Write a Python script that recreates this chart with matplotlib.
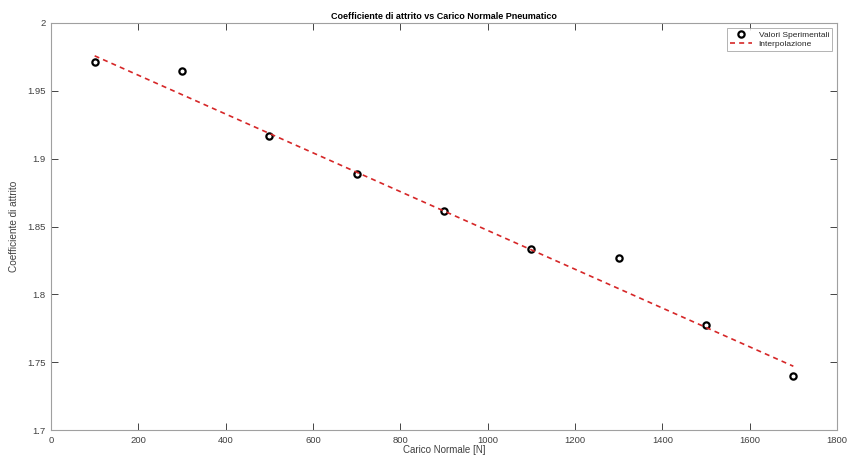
import matplotlib
matplotlib.use('Agg')
import matplotlib.pyplot as plt

# dati sperimentali
carico = [100, 300, 500, 700, 900, 1100, 1300, 1500, 1700]
coeff = [1.9715, 1.9643, 1.9165, 1.8890, 1.8612, 1.8337, 1.8265, 1.7775, 1.7400]

# retta di interpolazione (estremi)
carico_fit = [100, 1700]
coeff_fit = [1.9758, 1.7470]

x_ticks = [0, 200, 400, 600, 800, 1000, 1200, 1400, 1600, 1800]
y_ticks = [1.7, 1.75, 1.8, 1.85, 1.9, 1.95, 2.0]
y_labels = ['1.7', '1.75', '1.8', '1.85', '1.9', '1.95', '2']

plt.rcParams['font.family'] = ['Liberation Sans', 'DejaVu Sans']

fig = plt.figure(figsize=(8.49, 4.57), dpi=100)
ax = fig.add_axes([51 / 849, 1 - 430 / 457, 786 / 849, 407 / 457])

ax.plot(carico, coeff, 'o', mfc='none', mec='black', mew=1.6, ms=4.5,
        label='Valori Sperimentali')
ax.plot(carico_fit, coeff_fit, '--', color='#d62728', lw=1.2, dashes=(3, 2.5),
        label='Interpolazione')

ax.set_xlim(0, 1800)
ax.set_ylim(1.7, 2.0)
ax.set_xticks(x_ticks)
ax.set_yticks(y_ticks)
ax.set_yticklabels(y_labels)
ax.tick_params(direction='in', length=5, width=0.6, color='#262626',
               labelsize=6.8, labelcolor='#404040', top=True, right=True)
ax.tick_params(axis='x', pad=4)
ax.tick_params(axis='y', pad=4)
for s in ax.spines.values():
    s.set_color('#a0a0a0')
    s.set_linewidth(0.8)

ax.set_title('Coefficiente di attrito vs Carico Normale Pneumatico',
             fontsize=6.5, fontweight='bold', pad=3)
ax.set_xlabel('Carico Normale [N]', fontsize=7, color='#404040', labelpad=0.5)
ax.set_ylabel('Coefficiente di attrito', fontsize=7.2, color='#404040', labelpad=6)

leg = ax.legend(loc='upper right', fontsize=6, frameon=True, fancybox=False,
                edgecolor='#a0a0a0', borderaxespad=0.6, handlelength=2.6,
                borderpad=0.35, labelspacing=0.2)
leg.get_frame().set_linewidth(0.7)
for t in leg.get_texts():
    t.set_color('#262626')

fig.savefig('out.png', dpi=100)
